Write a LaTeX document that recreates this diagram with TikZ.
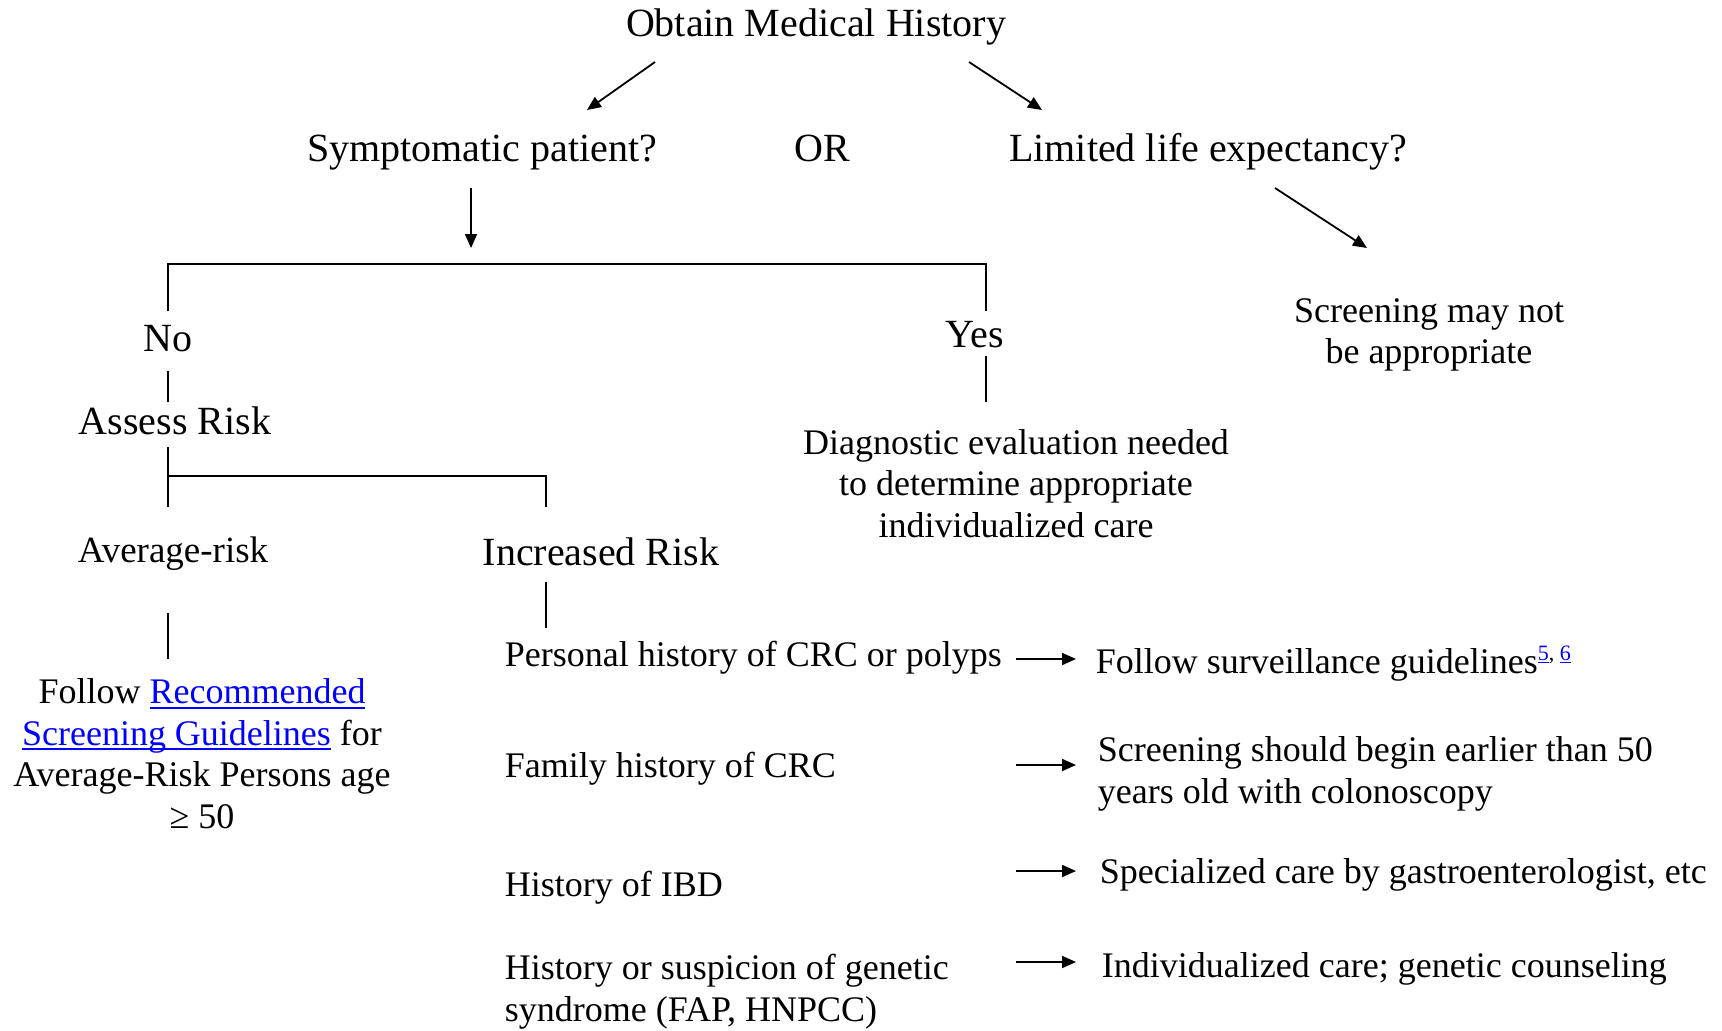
\documentclass[tikz,border=0pt]{standalone}
\usepackage{fontspec}
\setmainfont{Liberation Serif}
\usetikzlibrary{arrows.meta}
\newcommand{\lnk}[1]{{\color{blue}\setbox0\hbox{#1}\rlap{\rule[-0.15em]{\wd0}{0.055em}}\box0}}
\begin{document}
\begin{tikzpicture}[x=1pt,y=1pt,line width=1.8pt]
\tikzstyle{big}=[inner sep=0pt,anchor=base,font=\fontsize{40}{46}\selectfont]
\tikzstyle{txt}=[inner sep=0pt,anchor=base,align=center,font=\fontsize{36}{41.5}\selectfont]
\tikzstyle{item}=[txt,anchor=base west,align=left]
\tikzstyle{arr}=[-{Triangle[length=14pt,width=12pt]}]
\useasboundingbox (0,0) rectangle (1722,-1031);
\node[big] (obtain) at (816,-36) {Obtain Medical History};
\node[big] (sympt) at (482,-161) {Symptomatic patient?};
\node[big] (or) at (822,-161) {OR};
\node[big] (limited) at (1208,-161) {Limited life expectancy?};
\node[txt] (notappr) at (1429,-363.5) {Screening may not\\be appropriate};
\node[big] (no) at (168,-351) {No};
\node[big] (yes) at (975,-347) {Yes};
\node[big] (assess) at (175,-434) {Assess Risk};
\node[txt] (diag) at (1016,-537) {Diagnostic evaluation needed\\to determine appropriate\\individualized care};
\node[txt,font=\fontsize{37}{42}\selectfont] (average) at (173,-562) {Average-risk};
\node[big] (increased) at (601,-565) {Increased Risk};
\node[txt] (follow) at (202,-828) {Follow \lnk{Recommended}\\\lnk{Screening Guidelines} for\\Average-Risk Persons age\\≥ 50};
\node[item] (personal) at (504,-666) {Personal history of CRC or polyps};
\node[item] (family) at (504,-777) {Family history of CRC};
\node[item] (ibd) at (504,-896) {History of IBD};
\node[item] (genetic) at (504,-1021) {History or suspicion of genetic\\syndrome (FAP, HNPCC)};
\node[item] (surveil) at (1095,-673) {Follow surveillance guidelines\raisebox{13pt}{\fontsize{22}{24}\selectfont\lnk{5}, \lnk{6}}};
\node[item] (earlier) at (1097,-803) {Screening should begin earlier than 50\\years old with colonoscopy};
\node[item] (special) at (1099,-883) {Specialized care by gastroenterologist, etc};
\node[item] (indiv) at (1101,-977) {Individualized care; genetic counseling};
\coordinate (fork) at (471,-264);
\draw[arr] ([xshift=-161pt,yshift=-26pt]obtain.base) -- ([xshift=105pt,yshift=51pt]sympt.base);
\draw[arr] ([xshift=153pt,yshift=-26pt]obtain.base) -- ([xshift=-166pt,yshift=51pt]limited.base);
\draw[arr] ([xshift=-11pt,yshift=-27pt]sympt.base) -- ([yshift=16pt]fork);
\draw[arr] ([xshift=67pt,yshift=-27pt]limited.base) -- ([xshift=-62pt,yshift=115.5pt]notappr.base);
\draw ([yshift=40pt]no.base) |- ([xshift=11pt,yshift=83pt]yes.base) -- ([xshift=11pt,yshift=36pt]yes.base);
\draw ([yshift=-20pt]no.base) -- ([xshift=-7pt,yshift=32pt]assess.base);
\draw ([xshift=11pt,yshift=-9pt]yes.base) -- ([xshift=-30pt,yshift=135pt]diag.base);
\draw ([xshift=-7pt,yshift=-13pt]assess.base) -- ([xshift=-5pt,yshift=55pt]average.base);
\draw ([xshift=-7pt,yshift=-42pt]assess.base) -| ([xshift=-55pt,yshift=58pt]increased.base);
\draw ([xshift=-5pt,yshift=-51pt]average.base) -- ([xshift=-34pt,yshift=169pt]follow.base);
\draw ([xshift=-55pt,yshift=-17pt]increased.base) -- ([xshift=42pt,yshift=38pt]personal.base west);
\draw[arr] ([xshift=512pt,yshift=7pt]personal.base west) -- ([xshift=-19pt,yshift=14pt]surveil.base west);
\draw[arr] ([xshift=512pt,yshift=12pt]family.base west) -- ([xshift=-21pt,yshift=38pt]earlier.base west);
\draw[arr] ([xshift=512pt,yshift=25pt]ibd.base west) -- ([xshift=-23pt,yshift=12pt]special.base west);
\draw[arr] ([xshift=512pt,yshift=59pt]genetic.base west) -- ([xshift=-25pt,yshift=15pt]indiv.base west);
\end{tikzpicture}
\end{document}
